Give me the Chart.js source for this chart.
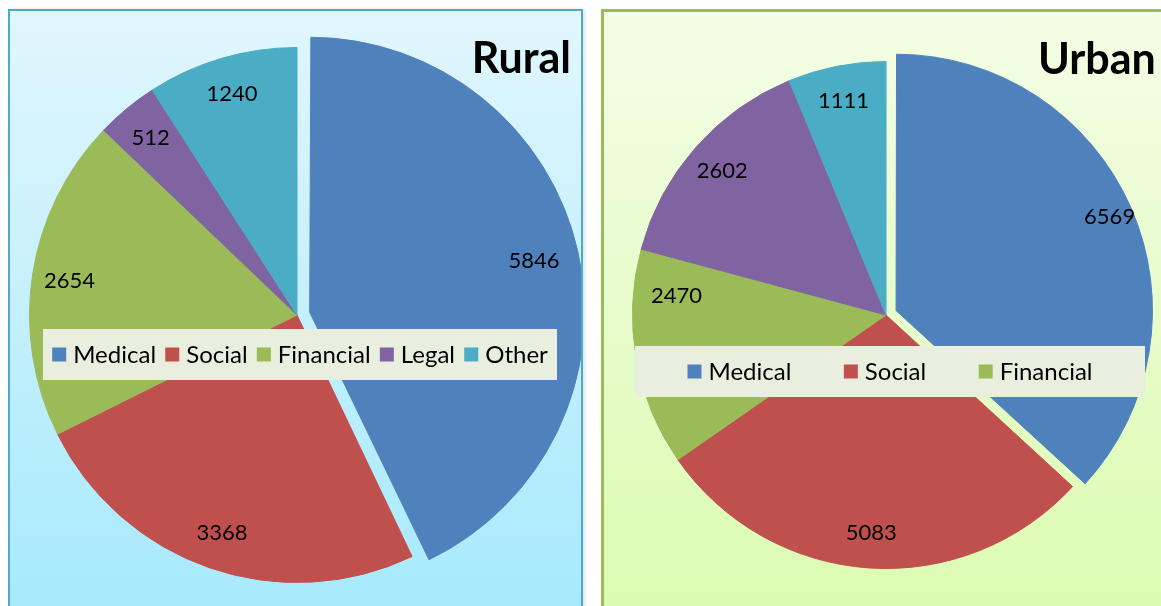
<!DOCTYPE html>
<html>
<head>
<meta charset="utf-8">
<script src="https://cdn.jsdelivr.net/npm/chart.js@4.4.1/dist/chart.umd.min.js"></script>
<style>
  html, body { margin: 0; padding: 0; background: #ffffff; width: 1161px; height: 606px; overflow: hidden; }
  .panel { position: absolute; box-sizing: border-box; overflow: hidden; }
  #ruralPanel { left: 8px; top: 9px; width: 575px; height: 640px; border: 2px solid #4bacc6;
    background: linear-gradient(to bottom, #e1f6fd 0%, #a3e9fc 100%); box-shadow: 2px 0 3px rgba(0,0,0,0.12); }
  #urbanPanel { left: 601px; top: 9px; width: 600px; height: 640px; border: 3px solid #9bbb59;
    background: linear-gradient(to bottom, #f3fde5 0%, #dafbae 100%); }
  canvas { position: absolute; }
  #ruralCanvas { left: -7px; top: -11px; }
  #urbanCanvas { left: 6px; top: -12px; }
</style>
</head>
<body>
<div class="panel" id="ruralPanel"><canvas id="ruralCanvas" width="588" height="630"></canvas></div>
<div class="panel" id="urbanPanel"><canvas id="urbanCanvas" width="552" height="630"></canvas></div>
<script>
// ---- data ----
const categories = ['Medical', 'Social', 'Financial', 'Legal', 'Other'];
const ruralValues = [5846, 3368, 2654, 512, 1240];
const urbanValues = [6569, 5083, 2470, 2602, 1111];
const sliceColors = ['#4f81bd', '#c0504d', '#9bbb59', '#8064a2', '#4bacc6'];
const ruralTitle = 'Rural';
const urbanTitle = 'Urban';

const FONT = 'Lato, "Open Sans", sans-serif';

const annotate = {
  id: 'annotate',
  afterDatasetsDraw(chart, args, opts) {
    const ctx = chart.ctx;
    const meta = chart.getDatasetMeta(0);
    const ds = chart.data.datasets[0];
    // legend box
    const lg = opts.legend;
    ctx.save();
    ctx.fillStyle = lg.bg;
    ctx.fillRect(lg.x, lg.y, lg.w, lg.h);
    ctx.font = lg.font;
    ctx.textBaseline = 'middle';
    const labels = chart.data.labels.slice(0, lg.maxItems);
    const widths = labels.map(l => lg.box + lg.boxGap + ctx.measureText(l).width);
    const total = widths.reduce((a, b) => a + b, 0);
    const gap = (lg.w - total) / (labels.length + 1);
    let x = lg.x + gap;
    const cy = lg.y + lg.h / 2;
    labels.forEach((l, i) => {
      ctx.fillStyle = ds.backgroundColor[i];
      ctx.fillRect(x, cy - lg.box / 2, lg.box, lg.box);
      ctx.fillStyle = '#000000';
      ctx.textAlign = 'left';
      ctx.fillText(l, x + lg.box + lg.boxGap, cy + 1);
      x += widths[i] + gap;
    });
    // value labels
    ctx.font = opts.labelFont;
    ctx.fillStyle = '#000000';
    ctx.textAlign = 'center';
    ctx.textBaseline = 'middle';
    meta.data.forEach((arc, i) => {
      const p = arc.getProps(['x', 'y', 'startAngle', 'endAngle', 'outerRadius']);
      const adj = (opts.labelAdjust && opts.labelAdjust[i]) || {};
      const mid = (p.startAngle + p.endAngle) / 2 + (adj.angle || 0) * Math.PI / 180;
      const shift = (arc.options.offset || 0) / 4;
      const d = shift + (adj.k || opts.labelK) * p.outerRadius;
      ctx.fillText(String(ds.data[i]), p.x + Math.cos(mid) * d, p.y + Math.sin(mid) * d);
    });
    // title
    const t = opts.title;
    ctx.font = t.font;
    ctx.textAlign = t.align;
    ctx.textBaseline = 'alphabetic';
    ctx.fillText(t.text, t.x, t.y);
    ctx.restore();
  }
};

function makePie(canvasId, values, offset, titleCfg, legendCfg, labelAdjust) {
  return new Chart(document.getElementById(canvasId), {
    type: 'pie',
    data: {
      labels: categories,
      datasets: [{
        data: values,
        backgroundColor: sliceColors,
        borderColor: sliceColors,
        borderWidth: 1,
        hoverBorderWidth: 1,
        hoverOffset: 0,
        offset: values.map((v, i) => i === 0 ? offset : 0)
      }]
    },
    options: {
      responsive: false,
      animation: false,
      events: [],
      layout: { padding: 0 },
      plugins: {
        legend: { display: false },
        tooltip: { enabled: false },
        annotate: {
          labelFont: '22px ' + FONT,
          labelK: 0.86,
          labelAdjust: labelAdjust,
          title: titleCfg,
          legend: legendCfg
        }
      }
    },
    plugins: [annotate]
  });
}

makePie('ruralCanvas', ruralValues, 52,
  { text: ruralTitle, x: 568, y: 73, align: 'right', font: 'bold 43px ' + FONT },
  { x: 40, y: 329, w: 514, h: 51, bg: '#eaeedf', font: '24px ' + FONT, box: 14, boxGap: 7, maxItems: 5 },
  {});

makePie('urbanCanvas', urbanValues, 44,
  { text: urbanTitle, x: 428, y: 74, align: 'left', font: 'bold 43px ' + FONT },
  { x: 25, y: 346, w: 510, h: 51, bg: '#eaeedf', font: '24px ' + FONT, box: 14, boxGap: 7, maxItems: 3 },
  { 0: { k: 0.92 }, 2: { angle: 15, k: 0.83 } });
</script>
</body>
</html>
